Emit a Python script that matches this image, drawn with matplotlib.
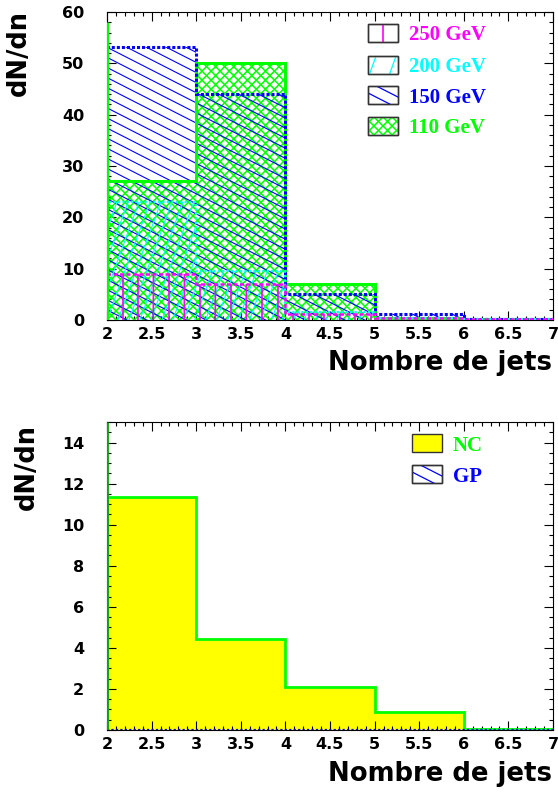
import numpy as np
import matplotlib
matplotlib.use("Agg")
import matplotlib.pyplot as plt
from matplotlib.collections import LineCollection
from matplotlib.transforms import IdentityTransform
from matplotlib.patches import Rectangle
from matplotlib.ticker import MultipleLocator, FormatStrFormatter

# ---------------- data ----------------
edges = [2, 3, 4, 5, 6, 7]
h250 = [9.0, 7.0, 1.2, 0.3, 0.1]
h200 = [23.0, 9.5, 1.5, 0.4, 0.1]
h150 = [53.2, 44.0, 5.0, 1.1, 0.1]
h110 = [27.0, 50.0, 7.0, 0.3, 0.1]
under110 = 58.0
nc = [11.35, 4.42, 2.07, 0.89, 0.05]
gp = [0.0, 0.0, 0.0, 0.0, 0.0]
under_nc = 15.0
top_labels = ["250 GeV", "200 GeV", "150 GeV", "110 GeV"]
bottom_labels = ["NC", "GP"]
xlabel = "Nombre de jets"
ylabel = "dN/dn"

W, H = 558, 793
fig = plt.figure(figsize=(W / 100, H / 100), dpi=100)
fig.patch.set_facecolor("white")


def px_axes(l, t, r, b):
    return fig.add_axes([l / W, 1 - b / H, (r - l) / W, (b - t) / H])


ax1 = px_axes(107, 12, 553, 320)
ax2 = px_axes(107, 422, 553, 730)

TICKFONT = dict(family="DejaVu Sans", weight="bold", size=11.5)


def style_axes(ax, ymax, ymaj, ymin):
    ax.set_xlim(2, 7)
    ax.set_ylim(0, ymax)
    ax.xaxis.set_major_locator(MultipleLocator(0.5))
    ax.xaxis.set_minor_locator(MultipleLocator(0.1))
    ax.yaxis.set_major_locator(MultipleLocator(ymaj))
    ax.yaxis.set_minor_locator(MultipleLocator(ymin))
    ax.xaxis.set_major_formatter(FormatStrFormatter("%g"))
    ax.yaxis.set_major_formatter(FormatStrFormatter("%g"))
    ax.tick_params(which="both", direction="in", top=True, right=True, width=0.8, colors="black")
    ax.tick_params(which="major", length=6.3)
    ax.tick_params(which="minor", length=3.1)
    ax.tick_params(axis="x", which="major", pad=5.0)
    ax.tick_params(axis="y", which="major", pad=16.5)
    for lab in ax.get_xticklabels() + ax.get_yticklabels():
        lab.set_fontproperties(matplotlib.font_manager.FontProperties(**TICKFONT))
    for sp in ax.spines.values():
        sp.set_linewidth(0.8)
        sp.set_color("black")


style_axes(ax1, 60, 10, 2)
style_axes(ax2, 15, 2, 0.5)


def hatch(ax, clip_patch, angle, spacing, color, lw, zorder, anchor=None, phase=0.0, bbox=None):
    bb = bbox if bbox is not None else ax.bbox
    if anchor is None:
        anchor = (bb.x0, bb.y0)
    cx, cy = (bb.x0 + bb.x1) / 2, (bb.y0 + bb.y1) / 2
    R = np.hypot(bb.width, bb.height) / 2 + 2 * spacing
    a = np.deg2rad(angle)
    d = np.array([np.cos(a), np.sin(a)])
    n = np.array([-np.sin(a), np.cos(a)])
    anc = np.array(anchor, dtype=float)
    c = np.array([cx, cy])
    t0 = np.dot(c - anc, n)
    kmin = int(np.floor((t0 - R) / spacing)) - 1
    kmax = int(np.ceil((t0 + R) / spacing)) + 1
    segs = []
    for k in range(kmin, kmax + 1):
        t = (k + phase) * spacing
        p = anc + t * n
        s = np.dot(c - p, d)
        p = p + s * d
        segs.append([p - R * d, p + R * d])
    lc = LineCollection(segs, colors=color, linewidths=lw,
                        transform=IdentityTransform(), zorder=zorder)
    ax.add_collection(lc, autolim=False)
    lc.set_clip_path(clip_patch)
    return lc


MAG, CYA, BLU, GRN = "#ff00ff", "#00ffff", "#0000ff", "#00ff00"

hs = {
    "250": [(90, 15.5, 1.2)],
    "200": [(70, 10.3, 0.8)],
    "150": [(-27, 9.0, 0.8)],
    "110": [(45, 6.4, 1.1), (-45, 6.4, 1.1)],
}

# ---------------- top panel ----------------
series = [
    ("110", h110, GRN, dict(linestyle="-", lw=2.2)),
    ("150", h150, BLU, dict(linestyle=(0, (1.0, 0.65)), lw=2.2)),
    ("200", h200, CYA, dict(linestyle=(0, (1.0, 1.0)), lw=1.6)),
    ("250", h250, MAG, dict(linestyle=(0, (1.6, 1.0)), lw=1.8)),
]
for i, (key, vals, col, ls) in enumerate(series):
    clip = ax1.stairs(vals, edges, fill=True, facecolor="none", edgecolor="none",
                      linewidth=0, baseline=0, zorder=1)
    for ang, sp, lw in hs[key]:
        hatch(ax1, clip, ang, sp, col, lw, zorder=2 + 0.1 * i)
    ax1.stairs(vals, edges, fill=False, baseline=0, color=col,
               linestyle=ls["linestyle"], linewidth=ls["lw"], zorder=3 + 0.1 * i)
ax1.vlines(edges[0], 0, under110, color=GRN, lw=2.2, zorder=4)

# legend top
LEGFONT = dict(family="Liberation Serif", weight="bold", size=15)
leg_rows_y = [0.932, 0.8295, 0.7305, 0.630]
leg_hatch = {
    "250": [(90, 40, 1.2, 0.0)],
    "200": [(70, 18.8, 0.9, 0.5)],
    "150": [(-27, 10.0, 0.9, 0.5)],
    "110": [(45, 6.4, 1.1, 0.0), (-45, 6.4, 1.1, 0.0)],
}
leg_cols = [MAG, CYA, BLU, GRN]
bw, bh = 30 / 446, 18 / 308
for lab, yc, col, key in zip(top_labels, leg_rows_y, leg_cols, ["250", "200", "150", "110"]):
    r = Rectangle((0.5852, yc - bh / 2), bw, bh, transform=ax1.transAxes,
                  facecolor="white", edgecolor="#333333", lw=1.0, zorder=5)
    ax1.add_patch(r)
    bb = r.get_window_extent()
    for ang, sp, lw, ph in leg_hatch[key]:
        hatch(ax1, r, ang, sp, col, lw, zorder=5.5,
              anchor=((bb.x0 + bb.x1) / 2, (bb.y0 + bb.y1) / 2), phase=ph, bbox=bb)
    r2 = Rectangle((0.5852, yc - bh / 2), bw, bh, transform=ax1.transAxes,
                   facecolor="none", edgecolor="#333333", lw=1.0, zorder=6)
    ax1.add_patch(r2)
    ax1.text(0.677, yc, lab, transform=ax1.transAxes, color=col, va="center_baseline",
             ha="left", **LEGFONT, zorder=6)

# ---------------- bottom panel ----------------
ax2.stairs(nc, edges, fill=True, facecolor="#ffff00", edgecolor="none", baseline=0, zorder=1)
ax2.stairs(nc, edges, fill=False, baseline=0, color=GRN, lw=2.0, zorder=3)
ax2.stairs(gp, edges, fill=False, baseline=0, color=BLU, linestyle=(0, (1.0, 1.0)), lw=1.6, zorder=3.2)
ax2.vlines(edges[0], 0, under_nc, color="#10a010", lw=2.0, zorder=4)

bh2 = 18 / 308
for lab, yc, col, key in zip(bottom_labels, [0.931, 0.831], [GRN, BLU], ["NC", "GP"]):
    fc = "#ffff00" if key == "NC" else "white"
    r = Rectangle((0.684, yc - bh2 / 2), bw, bh2, transform=ax2.transAxes,
                  facecolor=fc, edgecolor="#333333", lw=1.0, zorder=5)
    ax2.add_patch(r)
    if key == "GP":
        bb = r.get_window_extent()
        hatch(ax2, r, -27, 10.0, BLU, 0.9, zorder=5.5,
              anchor=((bb.x0 + bb.x1) / 2, (bb.y0 + bb.y1) / 2), phase=0.5, bbox=bb)
        r2 = Rectangle((0.684, yc - bh2 / 2), bw, bh2, transform=ax2.transAxes,
                       facecolor="none", edgecolor="#333333", lw=1.0, zorder=6)
        ax2.add_patch(r2)
    ax2.text(0.776, yc, lab, transform=ax2.transAxes, color=col, va="center_baseline",
             ha="left", **LEGFONT, zorder=6)

# ---------------- axis titles ----------------
LABFONT = dict(family="DejaVu Sans", weight="bold")
fig.text(552 / W, 1 - 370 / H, xlabel, ha="right", va="baseline", size=18.7, **LABFONT)
fig.text(552 / W, 1 - 781 / H, xlabel, ha="right", va="baseline", size=18.7, **LABFONT)
fig.text(18.5 / W, 1 - 53.5 / H, ylabel, ha="center", va="center", rotation=90, size=18.5, **LABFONT)
fig.text(26.5 / W, 1 - 466.5 / H, ylabel, ha="center", va="center", rotation=90, size=18.5, **LABFONT)

fig.savefig("out.png", dpi=100, facecolor="white")
